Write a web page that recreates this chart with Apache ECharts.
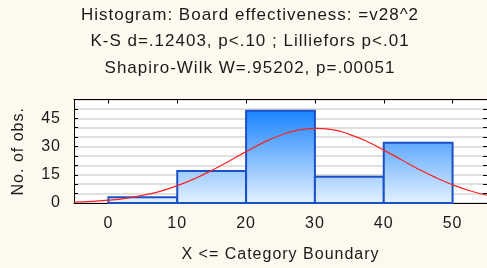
<!DOCTYPE html>
<html>
<head>
<meta charset="utf-8">
<script src="https://cdn.jsdelivr.net/npm/echarts@6/dist/echarts.min.js"></script>
<style>
html,body{margin:0;padding:0;background:#fdf9ee;}
#c{width:487px;height:268px;}
</style>
</head>
<body>
<div id="c"></div>
<script>
var titleLines = ["Histogram: Board effectiveness: =v28^2", "K-S d=.12403, p<.10 ; Lilliefors p<.01", "Shapiro-Wilk W=.95202, p=.00051"];
var binStarts = [0, 10, 20, 30, 40];
var binWidth = 10;
var counts = [3, 17, 49, 14, 32];
var xTicks = [0, 10, 20, 30, 40, 50];
var yTicks = [0, 15, 30, 45];
var curveX = [-5, -2.5, 0, 2.5, 5, 7.5, 10, 12.5, 15, 17.5, 20, 22.5, 25, 27.5, 30, 32.5, 35, 37.5, 40, 42.5, 45, 47.5, 50, 52.5, 55];
var curveY = [0.5, 0.9, 1.5, 2.5, 4.1, 6.2, 9.2, 12.9, 17.3, 22.2, 27.3, 32.1, 36.0, 38.7, 39.7, 39.0, 36.5, 32.8, 28.1, 23.1, 18.1, 13.6, 9.7, 6.5, 4.1];

// widen letter spacing slightly, as in the reference rendering
(function () {
  var P = window.CanvasRenderingContext2D && CanvasRenderingContext2D.prototype;
  if (!P || !('letterSpacing' in P)) return;
  var d = Object.getOwnPropertyDescriptor(P, 'font');
  if (!d || !d.set) return;
  Object.defineProperty(P, 'font', {
    configurable: true, enumerable: d.enumerable,
    get: d.get,
    set: function (v) { d.set.call(this, v); try { this.letterSpacing = '1px'; } catch (e) {} }
  });
})();

var FONT = "'Liberation Sans', Arial, sans-serif";
var TXT = '#1a1a1a';
var chart = echarts.init(document.getElementById('c'));

var barData = binStarts.map(function (s, i) { return [s, s + binWidth, counts[i]]; });
var curveData = curveX.map(function (x, i) { return [x, curveY[i]]; });

chart.setOption({
  backgroundColor: '#fdf9ee',
  animation: false,
  title: {
    text: titleLines.join('\n'),
    left: 250, top: 2, textAlign: 'center', padding: 0,
    textStyle: { fontFamily: FONT, fontSize: 17, fontWeight: 'normal', color: TXT, lineHeight: 26.5 }
  },
  grid: { left: 74, top: 99.5, width: 414, height: 103.5, backgroundColor: '#ffffff', show: true, borderWidth: 0 },
  xAxis: [{
    type: 'value', min: -5, max: 55, position: 'bottom',
    axisLine: { show: true, onZero: false, lineStyle: { color: '#000', width: 1 } },
    axisTick: { show: true, inside: true, length: 4, customValues: xTicks, lineStyle: { color: '#000' } },
    axisLabel: { customValues: xTicks, margin: 12, fontFamily: FONT, fontSize: 16, color: TXT },
    splitLine: { show: false },
    name: 'X <= Category Boundary', nameLocation: 'middle', nameGap: 43,
    nameTextStyle: { fontFamily: FONT, fontSize: 16, color: TXT }
  }, {
    type: 'value', min: -5, max: 55, position: 'top',
    axisLine: { show: true, onZero: false, lineStyle: { color: '#000', width: 1 } },
    axisTick: { show: true, inside: true, length: 4, customValues: xTicks, lineStyle: { color: '#000' } },
    axisLabel: { show: false },
    splitLine: { show: false }
  }],
  yAxis: [{
    type: 'value', min: 0, max: 55, interval: 5, position: 'left',
    axisLine: { show: true, onZero: false, lineStyle: { color: '#000', width: 1 } },
    axisTick: { show: true, inside: true, length: 4, lineStyle: { color: '#000' } },
    axisLabel: { margin: 13, fontFamily: FONT, fontSize: 16, color: TXT,
      formatter: function (v) { return yTicks.indexOf(v) >= 0 ? String(v) : ''; } },
    splitLine: { show: true, lineStyle: { color: '#e0e0e0', width: 2 } },
    name: 'No. of obs.', nameLocation: 'middle', nameGap: 47,
    nameTextStyle: { fontFamily: FONT, fontSize: 16, color: TXT }
  }, {
    type: 'value', min: 0, max: 55, interval: 5, position: 'right',
    axisLine: { show: true, onZero: false, lineStyle: { color: '#000', width: 1 } },
    axisTick: { show: true, inside: true, length: 4, lineStyle: { color: '#000' } },
    axisLabel: { show: false },
    splitLine: { show: false }
  }],
  series: [{
    type: 'custom',
    xAxisIndex: 0, yAxisIndex: 0,
    data: barData,
    renderItem: function (params, api) {
      var p0 = api.coord([api.value(0), api.value(2)]);
      var p1 = api.coord([api.value(1), 0]);
      var top = api.coord([0, 55])[1];
      var bot = api.coord([0, 0])[1];
      return {
        type: 'rect',
        shape: { x: p0[0], y: p0[1], width: p1[0] - p0[0], height: p1[1] - p0[1] },
        style: {
          fill: { type: 'linear', x: 0, y: top, x2: 0, y2: bot, global: true,
            colorStops: [{ offset: 0, color: '#0a78ff' }, { offset: 0.15, color: '#2389ff' }, { offset: 1, color: '#e4f1ff' }] },
          stroke: '#1a50c8', lineWidth: 2
        }
      };
    },
    z: 2
  }, {
    type: 'line',
    xAxisIndex: 0, yAxisIndex: 0,
    data: curveData,
    smooth: true, showSymbol: false, symbol: 'none',
    lineStyle: { color: '#ff2020', width: 1.2 },
    clip: true,
    z: 3
  }]
});
</script>
</body>
</html>
